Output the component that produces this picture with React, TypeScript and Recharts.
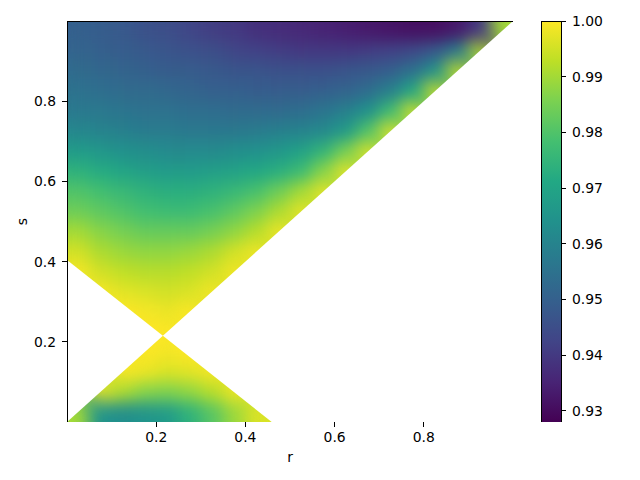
import { ScatterChart, Scatter, XAxis, YAxis, BarChart, Bar } from 'recharts'

// value range of the colour bar
const COLOR_MIN = 0.928
const COLOR_MAX = 1.0
const CB_TICKS = [0.93, 0.94, 0.95, 0.96, 0.97, 0.98, 0.99, 1.0]
const X_TICKS = [0.2, 0.4, 0.6, 0.8]
const Y_TICKS = [0.2, 0.4, 0.6, 0.8]

// cell centres along r
const R_CENTERS = [
    0.025, 0.075, 0.125, 0.175, 0.225, 0.275, 0.325, 0.375, 0.425, 0.475,
    0.525, 0.575, 0.625, 0.675, 0.725, 0.775, 0.825, 0.875, 0.925, 0.975
]
const CELL_STEP = 0.05
// the two regions meet on the diagonal here
const CROSS_S = 0.215

// one row of values per s centre, left to right (missing = white)
const s975 = [0.950, 0.949, 0.948, 0.946, 0.945, 0.943, 0.941, 0.940, 0.938, 0.937, 0.936, 0.935, 0.934, 0.933, 0.932, 0.931, 0.931, 0.933, 0.940, 0.990]
const s925 = [0.951, 0.950, 0.949, 0.948, 0.947, 0.946, 0.945, 0.943, 0.942, 0.941, 0.940, 0.940, 0.940, 0.941, 0.942, 0.944, 0.948, 0.958, 0.992]
const s875 = [0.953, 0.952, 0.951, 0.950, 0.949, 0.949, 0.948, 0.947, 0.947, 0.946, 0.946, 0.946, 0.947, 0.948, 0.950, 0.955, 0.965, 0.994]
const s825 = [0.955, 0.954, 0.953, 0.953, 0.952, 0.951, 0.950, 0.950, 0.949, 0.949, 0.949, 0.950, 0.951, 0.954, 0.959, 0.971, 0.995]
const s775 = [0.957, 0.957, 0.956, 0.955, 0.955, 0.954, 0.954, 0.953, 0.953, 0.953, 0.954, 0.956, 0.959, 0.964, 0.977, 0.996]
const s725 = [0.961, 0.960, 0.959, 0.958, 0.958, 0.957, 0.957, 0.957, 0.958, 0.959, 0.960, 0.962, 0.967, 0.980, 0.997]
const s675 = [0.967, 0.966, 0.964, 0.963, 0.962, 0.962, 0.962, 0.963, 0.964, 0.966, 0.969, 0.975, 0.985, 0.997]
const s625 = [0.974, 0.972, 0.970, 0.968, 0.967, 0.967, 0.968, 0.969, 0.971, 0.973, 0.977, 0.987, 0.998]
const s575 = [0.980, 0.978, 0.976, 0.974, 0.973, 0.973, 0.974, 0.976, 0.979, 0.984, 0.990, 0.998]
const s525 = [0.984, 0.982, 0.980, 0.978, 0.977, 0.977, 0.979, 0.982, 0.986, 0.991, 0.998]
const s475 = [0.990, 0.987, 0.985, 0.983, 0.983, 0.983, 0.985, 0.988, 0.992, 0.999]
const s425 = [0.995, 0.991, 0.989, 0.988, 0.988, 0.989, 0.991, 0.995, 0.999]
const s375 = [0.999, 0.995, 0.993, 0.992, 0.992, 0.993, 0.995, 0.999]
const s325 = [null, 0.999, 0.997, 0.996, 0.995, 0.996, 0.999]
const s275 = [null, null, 1.0, 0.999, 0.998, 1.0]
const s225 = [null, null, null, 1.0, 1.0]
const s175 = [null, null, null, 1.0, 0.999, 1.0]
const s125 = [null, null, 1.0, 0.998, 0.996, 0.997, 0.999]
const s075 = [null, 0.998, 0.991, 0.987, 0.986, 0.988, 0.992, 0.998]
const s025 = [0.990, 0.965, 0.963, 0.965, 0.967, 0.974, 0.981, 0.989, 0.996]

const ROWS: [number, (number | null)[]][] = [
    [0.975, s975], [0.925, s925], [0.875, s875], [0.825, s825], [0.775, s775],
    [0.725, s725], [0.675, s675], [0.625, s625], [0.575, s575], [0.525, s525],
    [0.475, s475], [0.425, s425], [0.375, s375], [0.325, s325], [0.275, s275],
    [0.225, s225], [0.175, s175], [0.125, s125], [0.075, s075], [0.025, s025]
]

// white (undefined) regions, as corners in r/s
const WHITE_LEFT = [{ r: 0, s: 0 }, { r: 0, s: 0.404 }, { r: CROSS_S, s: CROSS_S }]
const WHITE_RIGHT = [{ r: CROSS_S, s: CROSS_S }, { r: 0.459, s: 0 }, { r: 1, s: 0 }, { r: 1, s: 1 }]
const FRAME = [{ r: 0, s: 0 }, { r: 1, s: 0 }, { r: 1, s: 1 }, { r: 0, s: 1 }]

const VIRIDIS = ['#440154', '#482475', '#414487', '#355f8d', '#2a788e', '#21918c', '#22a884', '#44bf70', '#7ad151', '#bddf26', '#fde725']

const heatData = ROWS.flatMap(([s, vals]) =>
    vals.map((v, i) => (v == null ? null : { r: R_CENTERS[i], s, v })).filter(Boolean)
) as { r: number, s: number, v: number }[]

const PLOT_W = 446
const PLOT_H = 401
const CELL_W = PLOT_W * CELL_STEP
const CELL_H = PLOT_H * CELL_STEP
const FONT = 'DejaVu Sans'

function hex(c: string) {
    return [1, 3, 5].map(i => parseInt(c.slice(i, i + 2), 16))
}

function viridis(v: number) {
    const t = Math.max(0, Math.min(1, (v - COLOR_MIN) / (COLOR_MAX - COLOR_MIN))) * 10
    const i = Math.min(9, Math.floor(t))
    const f = t - i
    const a = hex(VIRIDIS[i])
    const b = hex(VIRIDIS[i + 1])
    const c = a.map((x, k) => Math.round(x + (b[k] - x) * f))
    return `rgb(${c[0]},${c[1]},${c[2]})`
}

// cells cut by the s = r diagonal only keep their coloured half
const HeatCell = (props: any) => {
    const { cx, cy, payload } = props
    const fill = viridis(payload.v)
    const l = cx - CELL_W / 2
    const rt = cx + CELL_W / 2
    const t = cy - CELL_H / 2
    const b = cy + CELL_H / 2
    if (Math.abs(payload.r - payload.s) < 1e-9) {
        const pts = payload.s > CROSS_S
            ? `${l},${b} ${l},${t} ${rt},${t}`
            : `${l},${b} ${rt},${b} ${rt},${t}`
        return <polygon points={pts} fill={fill} />
    }
    return <rect x={l} y={t} width={CELL_W} height={CELL_H} fill={fill} />
}

const NoDot = () => <g />

const toPoints = (pts: any[]) => pts.map((p: any) => `${p.x},${p.y}`).join(' ')

const whitePolygon = (props: any) => <polygon points={toPoints(props.points)} fill="#fff" stroke="none" />

const framePolygon = (props: any) => (
    <polygon points={toPoints(props.points)} fill="none" stroke="#000" strokeWidth={1} shapeRendering="crispEdges" />
)

const XLabel = (props: any) => {
    const vb = props.viewBox
    return <text x={vb.x + vb.width / 2} y={vb.y + 39.5} textAnchor="middle" fontFamily={FONT} fontSize={13.9} fill="#000">r</text>
}

const YLabel = (props: any) => {
    const vb = props.viewBox
    const x = vb.x + 26.5
    const y = vb.y + vb.height / 2
    return <text x={x} y={y} transform={`rotate(-90, ${x}, ${y})`} textAnchor="middle" fontFamily={FONT} fontSize={13.9} fill="#000">s</text>
}

const tickStyle = { fill: '#000', fontSize: 13.9, fontFamily: FONT }
const tickLineStyle = { stroke: '#000', strokeWidth: 1, shapeRendering: 'crispEdges' }
const colorbarData = [{ name: 'cb', span: [COLOR_MIN, COLOR_MAX] }]

export default function App() {
    return (
        <div style={{ position: 'absolute', left: 0, top: 0, width: 640, height: 480, background: '#fff' }}>
            <style>{'.heatmap-layer { filter: url(#heatBlur); }'}</style>
            <div style={{ position: 'absolute', left: 0, top: 0 }}>
                <ScatterChart width={640} height={480} margin={{ top: 21, right: 127, bottom: 13, left: 0 }}>
                    <defs>
                        <filter id="heatBlur" filterUnits="objectBoundingBox" x="0" y="0" width="1" height="1" colorInterpolationFilters="sRGB">
                            <feGaussianBlur stdDeviation="8" />
                            <feComponentTransfer>
                                <feFuncA type="table" tableValues="0 1 1 1 1 1 1 1 1 1 1 1 1 1 1 1 1 1 1 1" />
                            </feComponentTransfer>
                        </filter>
                    </defs>
                    <XAxis
                        type="number"
                        dataKey="r"
                        domain={[0, 1]}
                        allowDataOverflow
                        ticks={X_TICKS}
                        interval={0}
                        tickFormatter={(v: number) => v.toFixed(1)}
                        height={45}
                        tickSize={5}
                        tickMargin={5}
                        axisLine={false}
                        tickLine={tickLineStyle}
                        tick={tickStyle}
                        label={XLabel}
                    />
                    <YAxis
                        type="number"
                        dataKey="s"
                        domain={[0, 1]}
                        allowDataOverflow
                        ticks={Y_TICKS}
                        interval={0}
                        tickFormatter={(v: number) => v.toFixed(1)}
                        width={67}
                        tickSize={5}
                        tickMargin={6}
                        axisLine={false}
                        tickLine={tickLineStyle}
                        tick={tickStyle}
                        label={YLabel}
                    />
                    <Scatter className="heatmap-layer" data={heatData} shape={HeatCell} isAnimationActive={false} />
                    <Scatter data={WHITE_LEFT} shape={NoDot} line={whitePolygon} isAnimationActive={false} />
                    <Scatter data={WHITE_RIGHT} shape={NoDot} line={whitePolygon} isAnimationActive={false} />
                    <Scatter data={FRAME} shape={NoDot} line={framePolygon} isAnimationActive={false} />
                </ScatterChart>
            </div>
            <div style={{ position: 'absolute', left: 0, top: 0 }}>
                <BarChart width={640} height={480} data={colorbarData} margin={{ top: 21, right: 29, bottom: 58, left: 541 }} barCategoryGap={0}>
                    <defs>
                        <linearGradient id="viridisBar" x1="0" y1="1" x2="0" y2="0">
                            {VIRIDIS.map((c, i) => <stop key={c} offset={i / 10} stopColor={c} />)}
                        </linearGradient>
                    </defs>
                    <XAxis dataKey="name" hide />
                    <YAxis
                        orientation="right"
                        type="number"
                        domain={[COLOR_MIN, COLOR_MAX]}
                        allowDataOverflow
                        ticks={CB_TICKS}
                        interval={0}
                        tickFormatter={(v: number) => v.toFixed(2)}
                        width={50}
                        tickSize={5}
                        tickMargin={6}
                        axisLine={false}
                        tickLine={tickLineStyle}
                        tick={tickStyle}
                    />
                    <Bar dataKey="span" fill="url(#viridisBar)" stroke="#000" strokeWidth={1} shapeRendering="crispEdges" isAnimationActive={false} />
                </BarChart>
            </div>
        </div>
    )
}
